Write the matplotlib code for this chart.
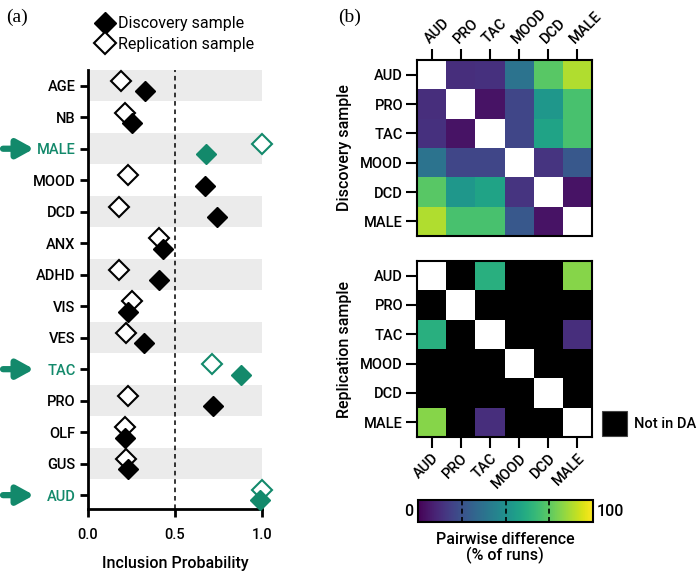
import numpy as np
import matplotlib
matplotlib.use('Agg')
import matplotlib.pyplot as plt
from matplotlib.lines import Line2D
from matplotlib.patches import Rectangle
from matplotlib.cm import ScalarMappable
from matplotlib.colors import Normalize

plt.rcParams['font.family'] = ['Roboto', 'DejaVu Sans']

# Panel (a) data: inclusion probabilities
variables = ['AGE', 'NB', 'MALE', 'MOOD', 'DCD', 'ANX', 'ADHD',
             'VIS', 'VES', 'TAC', 'PRO', 'OLF', 'GUS', 'AUD']
discovery = [0.33, 0.25, 0.68, 0.67, 0.74, 0.43, 0.41,
             0.23, 0.32, 0.88, 0.72, 0.21, 0.23, 0.99]
replication = [0.19, 0.21, 1.00, 0.23, 0.18, 0.41, 0.18,
               0.25, 0.22, 0.71, 0.23, 0.21, 0.22, 1.00]
highlighted = ['MALE', 'TAC', 'AUD']

# Panel (b) data: pairwise difference (% of runs), -1 = not in DA
pair_vars = ['AUD', 'PRO', 'TAC', 'MOOD', 'DCD', 'MALE']
nan = np.nan
disc_matrix = [
    [nan, 13, 14, 38, 74, 88],
    [13, nan, 5, 21, 53, 71],
    [14, 5, nan, 21, 58, 71],
    [38, 21, 21, nan, 15, 27],
    [74, 53, 58, 15, nan, 5],
    [88, 71, 71, 27, 5, nan],
]
rep_matrix = [
    [nan, -1, 63, -1, -1, 82],
    [-1, nan, -1, -1, -1, -1],
    [63, -1, nan, -1, -1, 13],
    [-1, -1, -1, nan, -1, -1],
    [-1, -1, -1, -1, nan, -1],
    [82, -1, 13, -1, -1, nan],
]

green = '#13896b'
W, H = 700, 573
fig = plt.figure(figsize=(7, 5.73), dpi=100)

def fx(px):
    return px / W

def fy(py):
    return 1 - py / H

# ---------- Panel (a) ----------
ax_left, ax_right = 88, 262
ax = fig.add_axes([fx(ax_left), fy(509), fx(ax_right) - fx(ax_left), fy(70) - fy(509)])
n = len(variables)
pos = np.arange(n)
for i in pos:
    if i % 2 == 0:
        ax.axhspan(i - 0.5, i + 0.5, color='#ebebeb', lw=0, zorder=0)
ax.axvline(0.5, color='black', ls='--', lw=1.1, dashes=(3, 2.5), zorder=1)

for i, v in enumerate(variables):
    c = green if v in highlighted else 'black'
    ax.plot(replication[i], i - 0.15, marker='D', ms=10.5, mfc='white',
            mec=c, mew=1.5, ls='none', clip_on=False, zorder=3)
    ax.plot(discovery[i], i + 0.17, marker='D', ms=10.5, mfc=c,
            mec=c, mew=1.0, ls='none', clip_on=False, zorder=4)

ax.set_xlim(0, 1.0)
ax.set_ylim(n - 1 + 0.44, -0.5)
ax.set_yticks(pos)
ax.set_yticklabels(variables)
ax.set_xticks([0, 0.5, 1.0])
ax.set_xticklabels(['0.0', '0.5', '1.0'])
for lab in ax.get_yticklabels():
    if lab.get_text() in highlighted:
        lab.set_color(green)
ax.tick_params(axis='y', labelsize=10.5, width=2, length=6, pad=3)
ax.tick_params(axis='x', labelsize=10.5, width=2, length=6, pad=8)
for s in ['top', 'right']:
    ax.spines[s].set_visible(False)
for s in ['left', 'bottom']:
    ax.spines[s].set_linewidth(2)
ax.set_xlabel('Inclusion Probability', fontsize=11.5, fontweight='medium', labelpad=10)
for lab in ax.get_yticklabels() + ax.get_xticklabels():
    lab.set_fontweight('medium')

# arrows pointing at the highlighted labels (x in axes fraction)
aw = ax_right - ax_left
for v in highlighted:
    i = variables.index(v)
    ax.annotate('', xy=((34 - ax_left) / aw, i), xytext=((3 - ax_left) / aw, i),
                xycoords=ax.get_yaxis_transform(), textcoords=ax.get_yaxis_transform(),
                arrowprops=dict(arrowstyle='-|>,head_length=1.0,head_width=0.55',
                                lw=4.5, color=green, shrinkA=0, shrinkB=0),
                annotation_clip=False)

handles = [Line2D([], [], marker='D', ms=11, mfc='black', mec='black', ls='none'),
           Line2D([], [], marker='D', ms=11, mfc='white', mec='black', mew=1.5, ls='none')]
fig.legend(handles, ['Discovery sample', 'Replication sample'],
           loc='upper left', bbox_to_anchor=(fx(80), fy(2)), frameon=False,
           fontsize=11.5, handletextpad=0.2, labelspacing=0.35, handlelength=1.3)

fig.text(fx(6), fy(17), '(a)', fontsize=14, family='Liberation Serif', va='center')
fig.text(fx(338), fy(17), '(b)', fontsize=14, family='Liberation Serif', va='center')

# ---------- Panel (b) ----------
cmap = plt.get_cmap('viridis').copy()
cmap.set_bad('white')
cmap.set_under('black')

def heat(rect, mat, top_labels):
    hx = fig.add_axes(rect)
    m = np.ma.masked_invalid(np.array(mat, dtype=float))
    hx.pcolormesh(m, cmap=cmap, vmin=0, vmax=100, edgecolor='none')
    k = len(pair_vars)
    hx.set_xlim(0, k)
    hx.set_ylim(k, 0)
    hx.set_xticks(np.arange(k) + 0.5)
    hx.set_yticks(np.arange(k) + 0.5)
    hx.set_yticklabels(pair_vars, fontsize=10.5, fontweight='medium')
    if top_labels:
        hx.xaxis.tick_top()
        hx.set_xticklabels(pair_vars, rotation=45, ha='left', va='bottom',
                           rotation_mode='anchor', fontsize=10.5, fontweight='medium')
    else:
        hx.set_xticklabels(pair_vars, rotation=45, ha='right', va='top',
                           rotation_mode='anchor', fontsize=10.5, fontweight='medium')
    hx.tick_params(axis='both', width=1.5, length=8, pad=2)
    for s in hx.spines.values():
        s.set_linewidth(1.5)
    return hx

hw = fx(592) - fx(417)
hh = fy(60) - fy(236)
heat([fx(417), fy(236), hw, hh], disc_matrix, True)
heat([fx(417), fy(437), hw, hh], rep_matrix, False)

fig.text(fx(345), fy(148), 'Discovery sample', rotation=90, ha='center', va='center',
         fontsize=11.5, fontweight='medium')
fig.text(fx(345), fy(349), 'Replication sample', rotation=90, ha='center', va='center',
         fontsize=11.5, fontweight='medium')

# Not in DA legend patch
fig.patches.append(Rectangle((fx(602), fy(436)), fx(627) - fx(602), fy(411) - fy(436),
                             transform=fig.transFigure, facecolor='black',
                             edgecolor='#444444', lw=0.8))
fig.text(fx(634), fy(424), 'Not in DA', fontsize=10.5, va='center', fontweight='medium')

# Colorbar
cax = fig.add_axes([fx(418), fy(522), fx(593) - fx(418), fy(500) - fy(522)])
cb = fig.colorbar(ScalarMappable(norm=Normalize(0, 100), cmap='viridis'),
                  cax=cax, orientation='horizontal')
cb.set_ticks([])
cb.outline.set_linewidth(1.5)
for v in [25, 50, 75]:
    cax.axvline(v, color='black', ls='--', lw=1.2, dashes=(3, 2))
fig.text(fx(413), fy(511), '0', ha='right', va='center', fontsize=11.5, fontweight='medium')
fig.text(fx(597), fy(511), '100', ha='left', va='center', fontsize=11.5, fontweight='medium')
fig.text(fx(505), fy(548), 'Pairwise difference\n(% of runs)', ha='center', va='center',
         fontsize=11.5, fontweight='medium', linespacing=1.05)

fig.savefig('out.png', dpi=100)
